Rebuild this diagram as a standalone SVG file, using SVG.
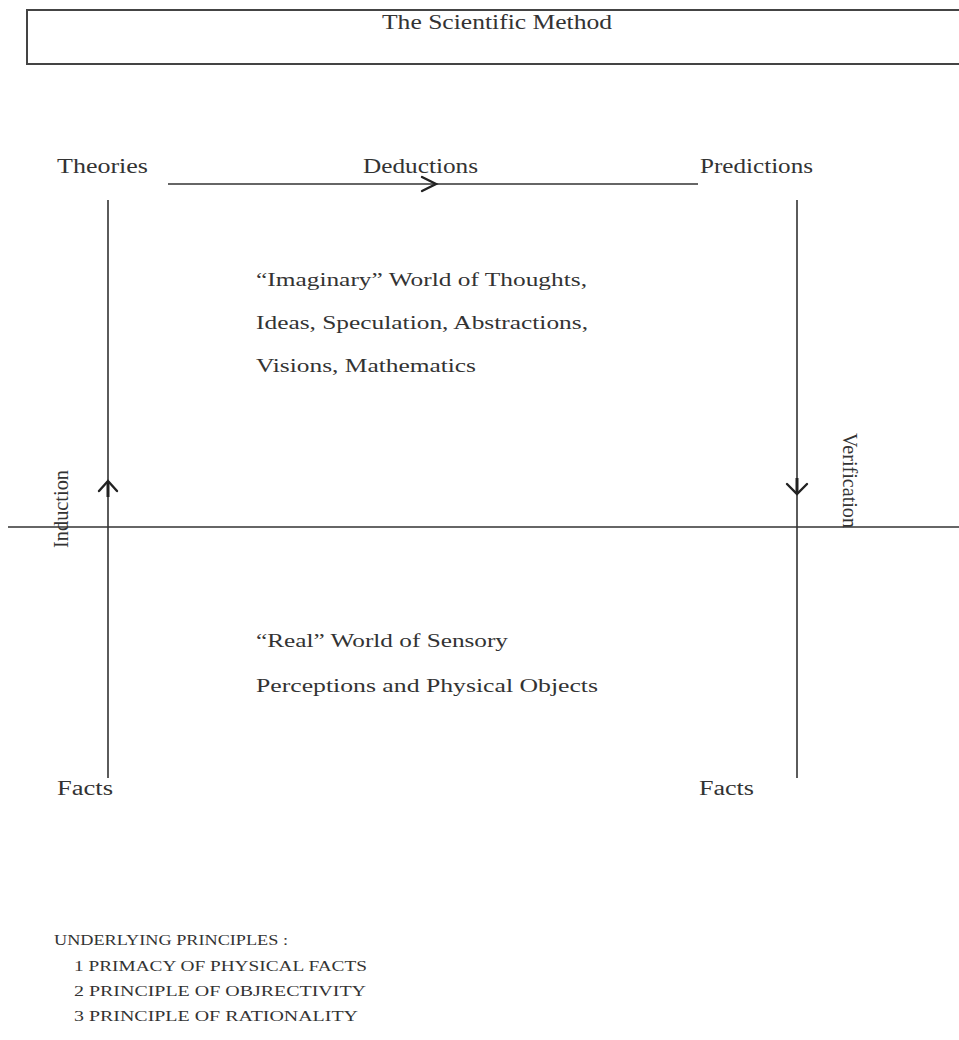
<svg xmlns="http://www.w3.org/2000/svg" width="959" height="1040" viewBox="0 0 959 1040">
<style>
text{font-family:"Liberation Serif","Times New Roman",serif;fill:#333;}
.t20{font-size:20px;}
.t22{font-size:22px;}
.t19{font-size:19.5px;}
.t15{font-size:15.5px;}
.ln{stroke:#333;stroke-width:1.6;fill:none;}
.hd{stroke:#222;stroke-width:2.4;fill:none;stroke-linecap:round;stroke-linejoin:miter;}
.box{stroke:#444;stroke-width:2;fill:#fff;}
</style>
<rect width="959" height="1040" fill="#fff"/>
<g id="title">
<rect class="box" x="27" y="10" width="940" height="54"/>
<text class="t20" x="382" y="29" textLength="230" lengthAdjust="spacingAndGlyphs">The Scientific Method</text>
</g>
<g id="connectors">
<line class="ln" x1="168" y1="184" x2="698" y2="184"/>
<polyline class="hd" points="422,177 436,184 422,191"/>
<line class="ln" x1="108" y1="200" x2="108" y2="778"/>
<polyline class="hd" points="99,491 108,481 117,491"/>
<line x1="108" y1="482" x2="108" y2="497" stroke="#222" stroke-width="3"/>
<line class="ln" x1="797" y1="200" x2="797" y2="778"/>
<polyline class="hd" points="787,484 797,494 807,484"/>
<line x1="797" y1="478" x2="797" y2="493" stroke="#222" stroke-width="3"/>
<line class="ln" x1="8" y1="527" x2="959" y2="527"/>
</g>
<g id="theories"><text class="t20" x="57" y="173" textLength="91" lengthAdjust="spacingAndGlyphs">Theories</text></g>
<g id="deductions"><text class="t20" x="363" y="173" textLength="115" lengthAdjust="spacingAndGlyphs">Deductions</text></g>
<g id="predictions"><text class="t20" x="700" y="173" textLength="113" lengthAdjust="spacingAndGlyphs">Predictions</text></g>
<g id="imaginary-world">
<text class="t19" x="256" y="286" textLength="331" lengthAdjust="spacingAndGlyphs">“Imaginary” World of Thoughts,</text>
<text class="t19" x="256" y="329" textLength="332" lengthAdjust="spacingAndGlyphs">Ideas, Speculation, Abstractions,</text>
<text class="t19" x="256" y="372" textLength="220" lengthAdjust="spacingAndGlyphs">Visions, Mathematics</text>
</g>
<g id="induction"><text class="t22" transform="translate(68,548) rotate(-90)" x="0" y="0" textLength="78" lengthAdjust="spacingAndGlyphs">Induction</text></g>
<g id="verification"><text class="t22" transform="translate(843,433) rotate(90)" x="0" y="0" textLength="95" lengthAdjust="spacingAndGlyphs">Verification</text></g>
<g id="real-world">
<text class="t19" x="256" y="647" textLength="252" lengthAdjust="spacingAndGlyphs">“Real” World of Sensory</text>
<text class="t19" x="256" y="692" textLength="342" lengthAdjust="spacingAndGlyphs">Perceptions and Physical Objects</text>
</g>
<g id="facts-left"><text class="t20" x="57" y="795" textLength="56" lengthAdjust="spacingAndGlyphs">Facts</text></g>
<g id="facts-right"><text class="t20" x="699" y="795" textLength="55" lengthAdjust="spacingAndGlyphs">Facts</text></g>
<g id="principles">
<text class="t15" x="54" y="945" textLength="234" lengthAdjust="spacingAndGlyphs">UNDERLYING PRINCIPLES :</text>
<text class="t15" x="74" y="971" textLength="293" lengthAdjust="spacingAndGlyphs">1 PRIMACY OF PHYSICAL FACTS</text>
<text class="t15" x="74" y="996" textLength="292" lengthAdjust="spacingAndGlyphs">2 PRINCIPLE OF OBJRECTIVITY</text>
<text class="t15" x="74" y="1021" textLength="284" lengthAdjust="spacingAndGlyphs">3 PRINCIPLE OF RATIONALITY</text>
</g>
</svg>
